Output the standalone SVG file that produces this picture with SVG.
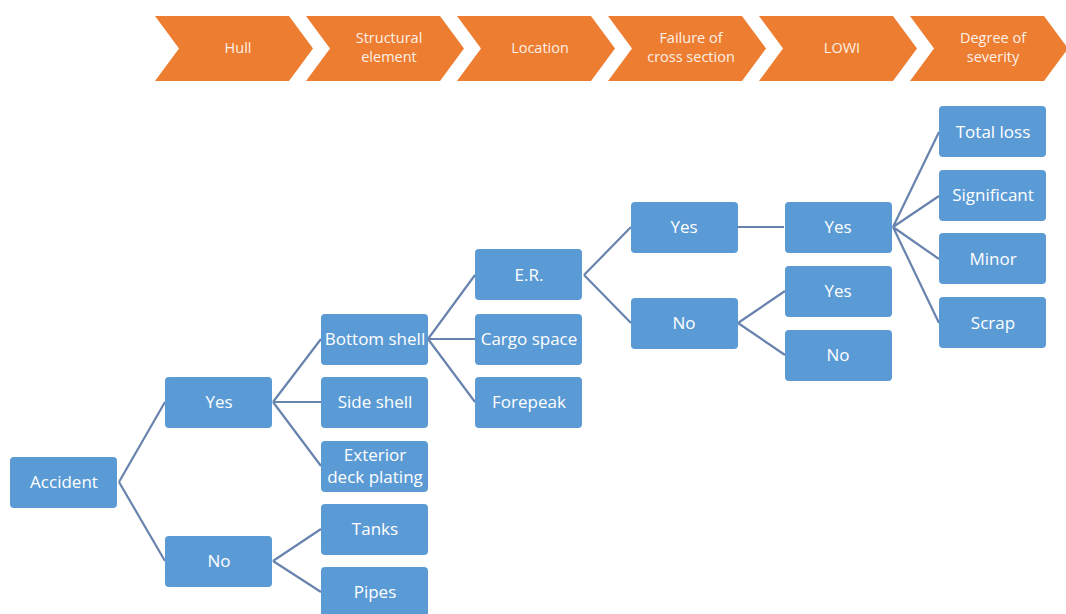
<svg xmlns="http://www.w3.org/2000/svg" width="1066" height="614" viewBox="0 0 1066 614">
  <style>
    .chev { fill: #ED7D31; }
    .chev-t { font-family: "Open Sans", "DejaVu Sans", sans-serif; font-size: 14.5px; fill: #FDF0E6; text-anchor: middle; }
    .box { fill: #5B9BD5; }
    .box-t { font-family: "Open Sans", "DejaVu Sans", sans-serif; font-size: 17px; fill: #FFFFFF; text-anchor: middle; }
    .link { stroke: #6883AD; stroke-width: 2.2; fill: none; }
  </style>
  <defs>
    <path id="chevron" d="M0,16 L134,16 L158,48.5 L134,81 L0,81 L24,48.5 Z"/>
    <rect id="node" width="107" height="51" rx="4" ry="4"/>
  </defs>
  <rect width="1066" height="614" fill="#FFFFFF"/>

  <!-- process stages -->
  <g id="stage-hull">
    <use href="#chevron" class="chev" x="155"/>
    <text class="chev-t" x="238" y="53">Hull</text>
  </g>
  <g id="stage-structural">
    <use href="#chevron" class="chev" x="306"/>
    <text class="chev-t" x="389" y="43">Structural</text>
    <text class="chev-t" x="389" y="62">element</text>
  </g>
  <g id="stage-location">
    <use href="#chevron" class="chev" x="457"/>
    <text class="chev-t" x="540" y="53">Location</text>
  </g>
  <g id="stage-failure">
    <use href="#chevron" class="chev" x="608"/>
    <text class="chev-t" x="691" y="43">Failure of</text>
    <text class="chev-t" x="691" y="62">cross section</text>
  </g>
  <g id="stage-lowi">
    <use href="#chevron" class="chev" x="759"/>
    <text class="chev-t" x="842" y="53">LOWI</text>
  </g>
  <g id="stage-severity">
    <use href="#chevron" class="chev" x="910"/>
    <text class="chev-t" x="993" y="43">Degree of</text>
    <text class="chev-t" x="993" y="62">severity</text>
  </g>

  <!-- connectors -->
  <g id="connectors" class="link">
    <path d="M119,482 L165,402 M119,482 L165,561"/>
    <path d="M273,402 L321,339 M273,402 L321,402 M273,402 L321,466"/>
    <path d="M273,561 L321,529 M273,561 L321,592"/>
    <path d="M428,339 L475,275 M428,339 L475,339 M428,339 L475,402"/>
    <path d="M584,275 L631,227 M584,275 L631,323"/>
    <path d="M738,227 L784,227"/>
    <path d="M738,323 L785,291 M738,323 L785,355"/>
    <path d="M893,227 L939,132 M893,227 L939,196 M893,227 L939,259 M893,227 L939,323"/>
  </g>

  <!-- decision tree nodes -->
  <g id="n-accident"><use href="#node" class="box" x="10" y="457"/><text class="box-t" x="64" y="488">Accident</text></g>

  <g id="n-hull-yes"><use href="#node" class="box" x="165" y="377"/><text class="box-t" x="219" y="408">Yes</text></g>
  <g id="n-hull-no"><use href="#node" class="box" x="165" y="536"/><text class="box-t" x="219" y="567">No</text></g>

  <g id="n-bottom-shell"><use href="#node" class="box" x="321" y="314"/><text class="box-t" x="375" y="345">Bottom shell</text></g>
  <g id="n-side-shell"><use href="#node" class="box" x="321" y="377"/><text class="box-t" x="375" y="408">Side shell</text></g>
  <g id="n-deck"><use href="#node" class="box" x="321" y="441"/><text class="box-t" x="375" y="461">Exterior</text><text class="box-t" x="375" y="483">deck plating</text></g>
  <g id="n-tanks"><use href="#node" class="box" x="321" y="504"/><text class="box-t" x="375" y="535">Tanks</text></g>
  <g id="n-pipes"><use href="#node" class="box" x="321" y="567"/><text class="box-t" x="375" y="598">Pipes</text></g>

  <g id="n-er"><use href="#node" class="box" x="475" y="249"/><text class="box-t" x="529" y="281">E.R.</text></g>
  <g id="n-cargo"><use href="#node" class="box" x="475" y="314"/><text class="box-t" x="529" y="345">Cargo space</text></g>
  <g id="n-forepeak"><use href="#node" class="box" x="475" y="377"/><text class="box-t" x="529" y="408">Forepeak</text></g>

  <g id="n-failure-yes"><use href="#node" class="box" x="631" y="202"/><text class="box-t" x="684" y="233">Yes</text></g>
  <g id="n-failure-no"><use href="#node" class="box" x="631" y="298"/><text class="box-t" x="684" y="329">No</text></g>

  <g id="n-lowi-yes-a"><use href="#node" class="box" x="785" y="202"/><text class="box-t" x="838" y="233">Yes</text></g>
  <g id="n-lowi-yes-b"><use href="#node" class="box" x="785" y="266"/><text class="box-t" x="838" y="297">Yes</text></g>
  <g id="n-lowi-no"><use href="#node" class="box" x="785" y="330"/><text class="box-t" x="838" y="361">No</text></g>

  <g id="n-total-loss"><use href="#node" class="box" x="939" y="106"/><text class="box-t" x="993" y="138">Total loss</text></g>
  <g id="n-significant"><use href="#node" class="box" x="939" y="170"/><text class="box-t" x="993" y="201">Significant</text></g>
  <g id="n-minor"><use href="#node" class="box" x="939" y="233"/><text class="box-t" x="993" y="265">Minor</text></g>
  <g id="n-scrap"><use href="#node" class="box" x="939" y="297"/><text class="box-t" x="993" y="329">Scrap</text></g>
</svg>
